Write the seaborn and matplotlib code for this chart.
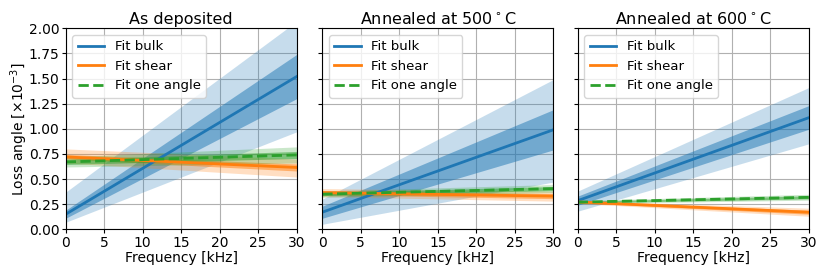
import matplotlib
matplotlib.use("Agg")
import matplotlib.pyplot as plt
import seaborn as sns
import numpy as np

# ---- data ----
freq = [0, 30]  # kHz, ends of fitted range

titles = ["As deposited", "Annealed at 500$^\\circ$C", "Annealed at 600$^\\circ$C"]
series_labels = ["Fit bulk", "Fit shear", "Fit one angle"]

# As deposited
dep_bulk = [0.15, 1.52]
dep_bulk_1s_lo = [0.11, 1.30]
dep_bulk_1s_hi = [0.19, 1.74]
dep_bulk_2s_lo = [0.07, 0.97]
dep_bulk_2s_hi = [0.37, 2.07]
dep_shear = [0.72, 0.615]
dep_shear_1s_lo = [0.70, 0.58]
dep_shear_1s_hi = [0.745, 0.65]
dep_shear_2s_lo = [0.66, 0.52]
dep_shear_2s_hi = [0.80, 0.70]
dep_one = [0.67, 0.74]
dep_one_1s_lo = [0.645, 0.705]
dep_one_1s_hi = [0.695, 0.775]
dep_one_2s_lo = [0.62, 0.66]
dep_one_2s_hi = [0.72, 0.82]

# Annealed at 500 C
a500_bulk = [0.17, 0.99]
a500_bulk_1s_lo = [0.11, 0.79]
a500_bulk_1s_hi = [0.23, 1.19]
a500_bulk_2s_lo = [0.05, 0.47]
a500_bulk_2s_hi = [0.30, 1.49]
a500_shear = [0.365, 0.33]
a500_shear_1s_lo = [0.345, 0.305]
a500_shear_1s_hi = [0.385, 0.355]
a500_shear_2s_lo = [0.325, 0.28]
a500_shear_2s_hi = [0.405, 0.38]
a500_one = [0.35, 0.405]
a500_one_1s_lo = [0.335, 0.385]
a500_one_1s_hi = [0.365, 0.425]
a500_one_2s_lo = [0.32, 0.365]
a500_one_2s_hi = [0.38, 0.445]

# Annealed at 600 C
a600_bulk = [0.285, 1.11]
a600_bulk_1s_lo = [0.24, 0.995]
a600_bulk_1s_hi = [0.33, 1.23]
a600_bulk_2s_lo = [0.18, 0.85]
a600_bulk_2s_hi = [0.38, 1.41]
a600_shear = [0.272, 0.17]
a600_shear_1s_lo = [0.265, 0.15]
a600_shear_1s_hi = [0.28, 0.19]
a600_shear_2s_lo = [0.258, 0.13]
a600_shear_2s_hi = [0.287, 0.21]
a600_one = [0.27, 0.318]
a600_one_1s_lo = [0.262, 0.303]
a600_one_1s_hi = [0.278, 0.333]
a600_one_2s_lo = [0.255, 0.29]
a600_one_2s_hi = [0.285, 0.348]

panels = [
    [(dep_bulk, dep_bulk_1s_lo, dep_bulk_1s_hi, dep_bulk_2s_lo, dep_bulk_2s_hi),
     (dep_shear, dep_shear_1s_lo, dep_shear_1s_hi, dep_shear_2s_lo, dep_shear_2s_hi),
     (dep_one, dep_one_1s_lo, dep_one_1s_hi, dep_one_2s_lo, dep_one_2s_hi)],
    [(a500_bulk, a500_bulk_1s_lo, a500_bulk_1s_hi, a500_bulk_2s_lo, a500_bulk_2s_hi),
     (a500_shear, a500_shear_1s_lo, a500_shear_1s_hi, a500_shear_2s_lo, a500_shear_2s_hi),
     (a500_one, a500_one_1s_lo, a500_one_1s_hi, a500_one_2s_lo, a500_one_2s_hi)],
    [(a600_bulk, a600_bulk_1s_lo, a600_bulk_1s_hi, a600_bulk_2s_lo, a600_bulk_2s_hi),
     (a600_shear, a600_shear_1s_lo, a600_shear_1s_hi, a600_shear_2s_lo, a600_shear_2s_hi),
     (a600_one, a600_one_1s_lo, a600_one_1s_hi, a600_one_2s_lo, a600_one_2s_hi)],
]

colors = ["#1f77b4", "#ff7f0e", "#2ca02c"]
styles = ["-", "-", "--"]

plt.rcParams["font.family"] = ["DejaVu Sans"]
plt.rcParams["font.size"] = 10

fig = plt.figure(figsize=(8.30, 2.77), dpi=100)
lefts = [65.7 / 830, 322.3 / 830, 577.7 / 830]
bottom = 1 - 229.3 / 277
height = (229.3 - 28.3) / 277
width = 231.0 / 830

for i in range(3):
    ax = fig.add_axes([lefts[i], bottom, width, height])
    for (line, lo1, hi1, lo2, hi2), c, ls, lab in zip(panels[i], colors, styles, series_labels):
        ax.fill_between(freq, lo2, hi2, color=c, alpha=0.25, lw=0)
        ax.fill_between(freq, lo1, hi1, color=c, alpha=0.5, lw=0)
        sns.lineplot(x=freq, y=line, ax=ax, color=c, linestyle=ls, lw=2, label=lab)
    ax.set_xlim(0, 30)
    ax.set_ylim(0, 2.0)
    ax.set_xticks([0, 5, 10, 15, 20, 25, 30])
    ax.set_yticks(np.arange(0, 2.01, 0.25))
    ax.grid(True, color="#b0b0b0", lw=0.8)
    ax.set_axisbelow(True)
    ax.set_title(titles[i], fontsize=11.5, pad=3)
    ax.set_xlabel("Frequency [kHz]", fontsize=10, labelpad=1)
    ax.tick_params(labelsize=10, length=3, pad=1.5)
    if i == 0:
        ax.set_ylabel("Loss angle [$\\times10^{-3}$]", fontsize=10)
        ax.yaxis.set_label_coords(-0.155, 0.5)
        ax.set_yticklabels(["%.2f" % v for v in np.arange(0, 2.01, 0.25)])
    else:
        ax.set_ylabel("")
        ax.set_yticklabels([])
    ax.legend(loc="upper left", fontsize=9.5, framealpha=0.8)

fig.savefig("out.png", dpi=100)
